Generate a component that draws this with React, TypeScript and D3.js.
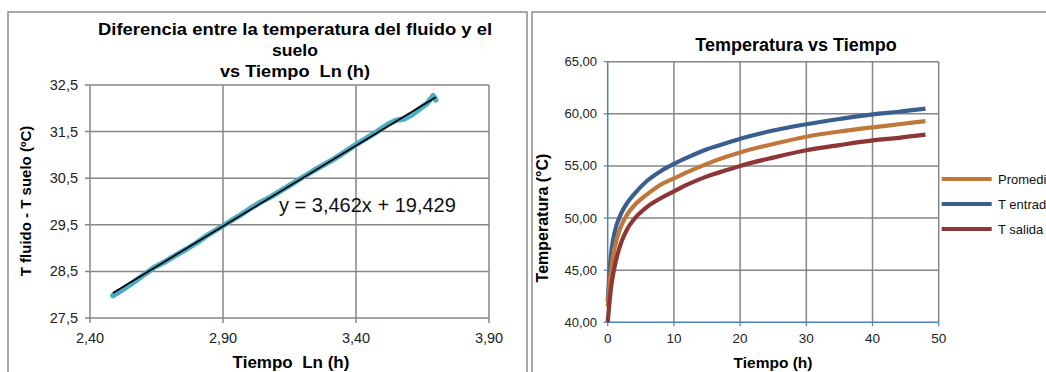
import React from "react";
import * as d3 from "d3";

// ---- Left chart data (ln time vs temperature difference) ----
const lnTime = [2.486, 2.52, 2.56, 2.6, 2.64, 2.68, 2.72, 2.76, 2.8, 2.84, 2.88, 2.92, 2.96, 3.0, 3.04, 3.08, 3.12, 3.16, 3.2, 3.24, 3.28, 3.32, 3.36, 3.4, 3.44, 3.48, 3.52, 3.55, 3.58, 3.61, 3.64, 3.67, 3.69, 3.7];
const tempDiff = [27.98, 28.1, 28.25, 28.42, 28.58, 28.7, 28.84, 28.97, 29.11, 29.27, 29.41, 29.55, 29.69, 29.84, 29.98, 30.1, 30.24, 30.38, 30.52, 30.66, 30.79, 30.92, 31.07, 31.22, 31.36, 31.5, 31.66, 31.74, 31.77, 31.86, 31.99, 32.12, 32.27, 32.18];
const trendSlope = 3.462;
const trendIntercept = 19.429;
const leftXTicks = [2.4, 2.9, 3.4, 3.9];
const leftYTicks = [27.5, 28.5, 29.5, 30.5, 31.5, 32.5];

// ---- Right chart data (time vs temperatures) ----
const timeH = [0, 0.5, 1, 2, 3, 4, 6, 8, 10, 12, 15, 18, 20, 25, 30, 35, 40, 44, 48];
const tEntrada = [42.0, 46.5, 48.5, 50.4, 51.5, 52.3, 53.6, 54.5, 55.2, 55.8, 56.6, 57.2, 57.6, 58.4, 59.0, 59.5, 59.95, 60.2, 60.5];
const promedio = [41.5, 45.0, 47.0, 49.2, 50.4, 51.2, 52.3, 53.2, 53.8, 54.4, 55.2, 55.9, 56.3, 57.1, 57.8, 58.3, 58.7, 59.0, 59.3];
const tSalida = [40.0, 43.3, 45.2, 47.6, 49.0, 49.9, 51.1, 51.9, 52.55, 53.2, 54.0, 54.6, 55.0, 55.8, 56.5, 57.0, 57.45, 57.7, 58.0];
const rightXTicks = [0, 10, 20, 30, 40, 50];
const rightYTicks = [40, 45, 50, 55, 60, 65];
const legendNames = ["Promedio", "T entrada", "T salida"];

const FONT = "Arial, 'Liberation Sans', sans-serif";
const GRID = "#868686";
const fmt = (d: number, n: number) => d.toFixed(n).replace(".", ",");
const pre = { whiteSpace: "pre" as const };

function LeftChart() {
  const x = d3.scaleLinear().domain([2.4, 3.9]).range([90, 489]);
  const y = d3.scaleLinear().domain([27.5, 32.5]).range([318, 85]);
  const pts = lnTime.map((t, i) => [t, tempDiff[i]] as [number, number]);
  const line = d3.line<[number, number]>().x(d => x(d[0])).y(d => y(d[1])).curve(d3.curveLinear);
  const x0 = d3.min(lnTime)!;
  const x1 = d3.max(lnTime)!;
  return (
    <g>
      <rect x={8} y={12} width={519} height={400} fill="#fff" stroke="#8c8c8c" strokeWidth={1.5} />
      <text x={295} y={35} textAnchor="middle" fontFamily={FONT} fontWeight="bold" fontSize={16.5} textLength={394} lengthAdjust="spacingAndGlyphs">Diferencia entre la temperatura del fluido y el</text>
      <text x={295} y={56} textAnchor="middle" fontFamily={FONT} fontWeight="bold" fontSize={16.5} textLength={46} lengthAdjust="spacingAndGlyphs">suelo</text>
      <text x={295} y={77} textAnchor="middle" fontFamily={FONT} fontWeight="bold" fontSize={16.5} textLength={150} lengthAdjust="spacingAndGlyphs" style={pre}>vs Tiempo  Ln (h)</text>
      {leftYTicks.map(t => (
        <g key={"ly" + t}>
          <line x1={85} x2={489} y1={y(t)} y2={y(t)} stroke={GRID} strokeWidth={1.5} />
          <text x={78} y={y(t) + 5} textAnchor="end" fontFamily={FONT} fontSize={14.5} fill="#222">{fmt(t, 1)}</text>
        </g>
      ))}
      {leftXTicks.map(t => (
        <g key={"lx" + t}>
          <line x1={x(t)} x2={x(t)} y1={85} y2={323} stroke={GRID} strokeWidth={1.5} />
          <text x={x(t)} y={343} textAnchor="middle" fontFamily={FONT} fontSize={14.5} fill="#222">{fmt(t, 2)}</text>
        </g>
      ))}
      <path d={line(pts) || ""} fill="none" stroke="#4BACC6" strokeWidth={5.5} strokeLinejoin="round" strokeLinecap="round" />
      <line x1={x(x0)} y1={y(trendSlope * x0 + trendIntercept)} x2={x(x1)} y2={y(trendSlope * x1 + trendIntercept)} stroke="#000" strokeWidth={1.8} />
      <text x={279} y={212} fontFamily={FONT} fontSize={20} fill="#111">y = 3,462x + 19,429</text>
      <text x={291} y={368} textAnchor="middle" fontFamily={FONT} fontWeight="bold" fontSize={17} style={pre}>Tiempo  Ln (h)</text>
      <text transform={`translate(31,201) rotate(-90)`} textAnchor="middle" fontFamily={FONT} fontWeight="bold" fontSize={15}>T fluido - T suelo (ºC)</text>
    </g>
  );
}

function RightChart() {
  const x = d3.scaleLinear().domain([0, 50]).range([607.7, 938.7]);
  const y = d3.scaleLinear().domain([40, 65]).range([322.3, 61.7]);
  const series = [
    { name: legendNames[0], vals: promedio, color: "#C0773A" },
    { name: legendNames[1], vals: tEntrada, color: "#3A5F8F" },
    { name: legendNames[2], vals: tSalida, color: "#8E3536" },
  ];
  const line = d3.line<number>().x((_, i) => x(timeH[i])).y(d => y(d)).curve(d3.curveMonotoneX);
  const drawOrder = [1, 0, 2];
  return (
    <g>
      <rect x={532} y={12} width={600} height={400} fill="#fff" stroke="#8c8c8c" strokeWidth={1.5} />
      <text x={796} y={51} textAnchor="middle" fontFamily={FONT} fontWeight="bold" fontSize={18}>Temperatura vs Tiempo</text>
      {rightYTicks.map(t => (
        <g key={"ry" + t}>
          {t !== 40 && <line x1={x(0)} x2={x(50)} y1={y(t)} y2={y(t)} stroke={GRID} strokeWidth={1.5} />}
          <line x1={x(0) - 4} x2={x(0)} y1={y(t)} y2={y(t)} stroke="#4F81BD" strokeWidth={1.2} />
          <text x={597} y={y(t) + 4.5} textAnchor="end" fontFamily={FONT} fontSize={13} fill="#222">{fmt(t, 2)}</text>
        </g>
      ))}
      {rightXTicks.map(t => (
        <g key={"rx" + t}>
          {t !== 0 && <line x1={x(t)} x2={x(t)} y1={y(65)} y2={y(40)} stroke={GRID} strokeWidth={1.5} />}
          <line x1={x(t)} x2={x(t)} y1={y(40)} y2={y(40) + 4} stroke="#4F81BD" strokeWidth={1.2} />
          <text x={x(t)} y={343} textAnchor="middle" fontFamily={FONT} fontSize={13.5} fill="#222">{t}</text>
        </g>
      ))}
      <line x1={x(0)} x2={x(0)} y1={y(65)} y2={y(40)} stroke="#4F81BD" strokeWidth={1.5} />
      <line x1={x(0)} x2={x(50)} y1={y(40)} y2={y(40)} stroke="#4F81BD" strokeWidth={1.5} />
      {drawOrder.map(i => (
        <path key={series[i].name} d={line(series[i].vals) || ""} fill="none" stroke={series[i].color} strokeWidth={4.2} strokeLinejoin="round" />
      ))}
      {series.map((s, i) => (
        <g key={"lg" + s.name}>
          <line x1={941.7} x2={991.7} y1={179 + i * 25} y2={179 + i * 25} stroke={s.color} strokeWidth={4} />
          <text x={998} y={184 + i * 25} fontFamily={FONT} fontSize={13} fill="#111">{s.name}</text>
        </g>
      ))}
      <text x={773} y={368} textAnchor="middle" fontFamily={FONT} fontWeight="bold" fontSize={15.5}>Tiempo (h)</text>
      <text transform={`translate(548,218) rotate(-90)`} textAnchor="middle" fontFamily={FONT} fontWeight="bold" fontSize={16}>Temperatura (°C)</text>
    </g>
  );
}

export default function App() {
  return (
    <svg width={1046} height={372} style={{ position: "fixed", left: 0, top: 0, background: "#fff" }}>
      <rect width={1046} height={372} fill="#fff" />
      <LeftChart />
      <RightChart />
    </svg>
  );
}
